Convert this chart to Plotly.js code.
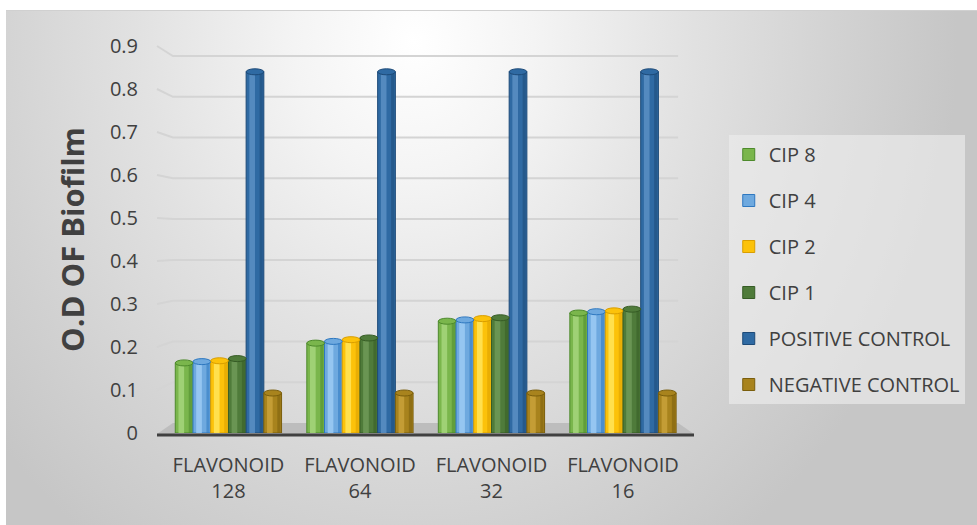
<!DOCTYPE html>
<html>
<head>
<meta charset="utf-8">
<script src="https://cdn.plot.ly/plotly-3.0.1.min.js"></script>
<style>
  html, body { margin: 0; padding: 0; background: #ffffff; }
  #frame {
    position: absolute; left: 6px; top: 10px; width: 971px; height: 515px;
    background: radial-gradient(ellipse 56% 120% at 42% 6%, #ffffff 0%, #f4f4f4 22%, #e2e2e2 50%, #d2d2d2 78%, #c6c6c6 100%);
    border-top: 1px solid #d0d0d0;
  }
  #chart { position: absolute; left: 0; top: 0; width: 977px; height: 525px; }
</style>
</head>
<body>
<div id="frame"></div>
<div id="chart"></div>
<script>
// Biofilm optical density per flavonoid concentration
const categories = ['FLAVONOID<br>128', 'FLAVONOID<br>64', 'FLAVONOID<br>32', 'FLAVONOID<br>16'];
const seriesNames = ['CIP 8', 'CIP 4', 'CIP 2', 'CIP 1', 'POSITIVE CONTROL', 'NEGATIVE CONTROL'];
const cip8 = [0.163, 0.209, 0.260, 0.279];
const cip4 = [0.166, 0.213, 0.263, 0.282];
const cip2 = [0.168, 0.217, 0.266, 0.284];
const cip1 = [0.173, 0.221, 0.268, 0.288];
const positiveControl = [0.84, 0.84, 0.84, 0.84];
const negativeControl = [0.093, 0.093, 0.093, 0.093];
const yTickValues = [0, 0.1, 0.2, 0.3, 0.4, 0.5, 0.6, 0.7, 0.8, 0.9];
const yTickLabels = ['0', '0.1', '0.2', '0.3', '0.4', '0.5', '0.6', '0.7', '0.8', '0.9'];

const seriesValues = [cip8, cip4, cip2, cip1, positiveControl, negativeControl];

// cylinder shading: body, highlight stripe, rim/edge
const bodyColors  = ['#7ab64c', '#6ea9df', '#fcc20a', '#4f7b3a', '#2f6aa3', '#a8831d'];
const lightColors = ['#a6d67c', '#9ccbf5', '#ffe55a', '#6f9a58', '#5a8fc4', '#c9a23a'];
const edgeColors  = ['#4d8a2c', '#2e78c0', '#d99e00', '#365c25', '#1d4a78', '#7a5e0c'];

const groupWidth = 0.808;
const barWidth = groupWidth / seriesNames.length;
const catIndex = categories.map((_, i) => i);

const traces = [];
const shapes = [];

seriesValues.forEach((vals, s) => {
  const off = -groupWidth / 2 + s * barWidth;
  traces.push({
    type: 'bar', name: seriesNames[s], x: categories, y: vals,
    width: barWidth, offset: off, legendgroup: 'g' + s,
    marker: { color: bodyColors[s], line: { color: edgeColors[s], width: 1 } },
    hoverinfo: 'name+y'
  });
  // lighter stripe on the left third of the cylinder
  traces.push({
    type: 'bar', x: categories, y: vals, showlegend: false, hoverinfo: 'skip',
    width: barWidth * 0.32, offset: off + barWidth * 0.18, legendgroup: 'g' + s,
    marker: { color: lightColors[s], opacity: 0.85, line: { width: 0 } }
  });
  // darker shade on the right edge
  traces.push({
    type: 'bar', x: categories, y: vals, showlegend: false, hoverinfo: 'skip',
    width: barWidth * 0.18, offset: off + barWidth * 0.76, legendgroup: 'g' + s,
    marker: { color: edgeColors[s], opacity: 0.55, line: { width: 0 } }
  });
  // elliptical cap on top of each cylinder
  vals.forEach((v, c) => {
    shapes.push({
      type: 'circle', xref: 'x', yref: 'y', layer: 'above',
      x0: catIndex[c] + off, x1: catIndex[c] + off + barWidth,
      y0: v - 0.007, y1: v + 0.007,
      fillcolor: bodyColors[s], line: { color: edgeColors[s], width: 1 }
    });
  });
});

// plot area in pixels
const L = 157, R = 698, T = 46, B = 433;
const toPaperX = px => (px - L) / (R - L);
const toPaperY = py => (B - py) / (B - T);

// back wall gridlines with a short receding segment at the left
yTickValues.slice(1).forEach(v => {
  const frontY = B - v * (B - T) / 0.9;
  const backY = 423 - v * (423 - 56) / 0.9;
  shapes.push({
    type: 'path', xref: 'paper', yref: 'paper', layer: 'below',
    path: 'M' + toPaperX(L) + ',' + toPaperY(frontY) +
          ' L' + toPaperX(L + 16) + ',' + toPaperY(backY) +
          ' L' + toPaperX(R - 16) + ',' + toPaperY(backY),
    line: { color: '#d4d4d4', width: 2 }
  });
});

// floor slab
shapes.push({
  type: 'path', xref: 'paper', yref: 'paper', layer: 'below',
  path: 'M' + toPaperX(L) + ',' + toPaperY(434) + ' L' + toPaperX(L + 16) + ',' + toPaperY(423) +
        ' L' + toPaperX(R - 16) + ',' + toPaperY(423) + ' L' + toPaperX(R) + ',' + toPaperY(434) + ' Z',
  fillcolor: '#bdbdbd', line: { width: 0 }
});
shapes.push({
  type: 'line', xref: 'paper', yref: 'paper', layer: 'below',
  x0: toPaperX(L), x1: toPaperX(R), y0: toPaperY(435), y1: toPaperY(435),
  line: { color: '#404040', width: 3 }
});

const layout = {
  width: 977, height: 525,
  margin: { l: L, r: 977 - R, t: T, b: 525 - B },
  paper_bgcolor: 'rgba(0,0,0,0)',
  plot_bgcolor: 'rgba(0,0,0,0)',
  barmode: 'overlay',
  font: { family: 'Open Sans, sans-serif', color: '#404040', size: 20 },
  xaxis: {
    type: 'category', range: [-0.543, 3.54],
    showgrid: false, zeroline: false, showline: false, ticks: '',
    ticklabelstandoff: 18, fixedrange: true,
    tickfont: { size: 20, color: '#404040' }
  },
  yaxis: {
    range: [0, 0.9], tickvals: yTickValues, ticktext: yTickLabels,
    showgrid: false, zeroline: false, showline: false, ticks: '',
    ticklabelstandoff: 18, fixedrange: true,
    tickfont: { size: 20, color: '#404040' },
    title: { text: 'O.D OF Biofilm', standoff: 16,
             font: { size: 31, color: '#404040', family: 'Open Sans, sans-serif', weight: 'bold' } }
  },
  legend: {
    x: toPaperX(733), y: toPaperY(135), xanchor: 'left', yanchor: 'top',
    bgcolor: 'rgba(236,236,236,0.65)', borderwidth: 0,
    font: { size: 20, color: '#404040' },
    tracegroupgap: 17, traceorder: 'grouped', itemwidth: 30
  },
  shapes: shapes,
  showlegend: true
};

Plotly.newPlot('chart', traces, layout, { displayModeBar: false, staticPlot: true });
</script>
</body>
</html>
